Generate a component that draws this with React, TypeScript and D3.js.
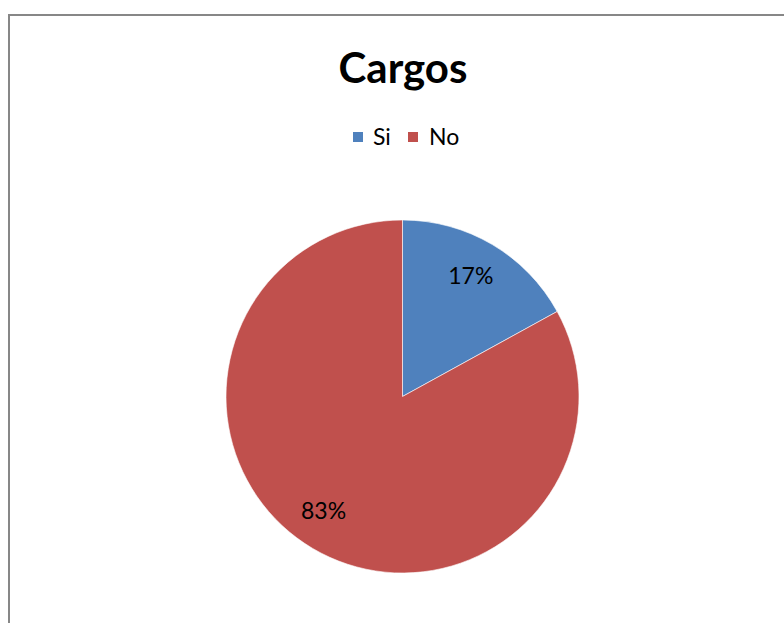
import React from "react";
import * as d3 from "d3";

const title = "Cargos";
const categories = ["Si", "No"];
const values = [17, 83];
const labels = ["17%", "83%"];
const colors = ["#4F81BD", "#C0504D"];

const W = 784;
const H = 623;

export default function App() {
  const cx = 402.5;
  const cy = 396.5;
  const R = 176.5;
  const pie = d3
    .pie<number>()
    .sort(null)
    .value((d) => d)(values);
  const arc = d3.arc<d3.PieArcDatum<number>>().innerRadius(0).outerRadius(R);
  const labelArc = d3
    .arc<d3.PieArcDatum<number>>()
    .innerRadius(139)
    .outerRadius(139);

  const color = d3.scaleOrdinal<string, string>().domain(categories).range(colors);

  const legendY = 137;
  const legendItems = [
    { x: 353, tx: 373 },
    { x: 408, tx: 429 },
  ];
  // small angular nudge to follow Excel's best-fit label placement
  const labelNudge = [-0.02, 0.07];

  return (
    <svg
      width={W}
      height={H}
      style={{ position: "absolute", left: 0, top: 0, background: "#fff" }}
      fontFamily="Lato, 'Open Sans', sans-serif"
    >
      <rect x={0} y={0} width={W} height={H} fill="#fff" />
      <rect
        x={9}
        y={15}
        width={W + 20}
        height={H + 20}
        fill="none"
        stroke="#878787"
        strokeWidth={2}
      />
      <text
        x={403}
        y={83}
        textAnchor="middle"
        fontSize={42}
        fontWeight="bold"
        fill="#000"
      >
        {title}
      </text>
      {categories.map((c, i) => (
        <g key={c}>
          <rect
            x={legendItems[i].x}
            y={legendY - 5}
            width={10}
            height={10}
            fill={color(c)}
          />
          <text
            x={legendItems[i].tx}
            y={legendY + 7.5}
            fontSize={23}
            fill="#000"
          >
            {c}
          </text>
        </g>
      ))}
      <g transform={`translate(${cx},${cy})`}>
        {pie.map((p, i) => (
          <path
            key={i}
            d={arc(p) || ""}
            fill={color(categories[i])}
            stroke="#fff"
            strokeWidth={0.6}
          />
        ))}
        {pie.map((p, i) => {
          const shifted = {
            ...p,
            startAngle: p.startAngle + labelNudge[i],
            endAngle: p.endAngle + labelNudge[i],
          };
          const [x, y] = labelArc.centroid(shifted);
          return (
            <text
              key={"l" + i}
              x={x}
              y={y}
              dy="0.35em"
              textAnchor="middle"
              fontSize={23}
              fill="#000"
            >
              {labels[i]}
            </text>
          );
        })}
      </g>
    </svg>
  );
}
